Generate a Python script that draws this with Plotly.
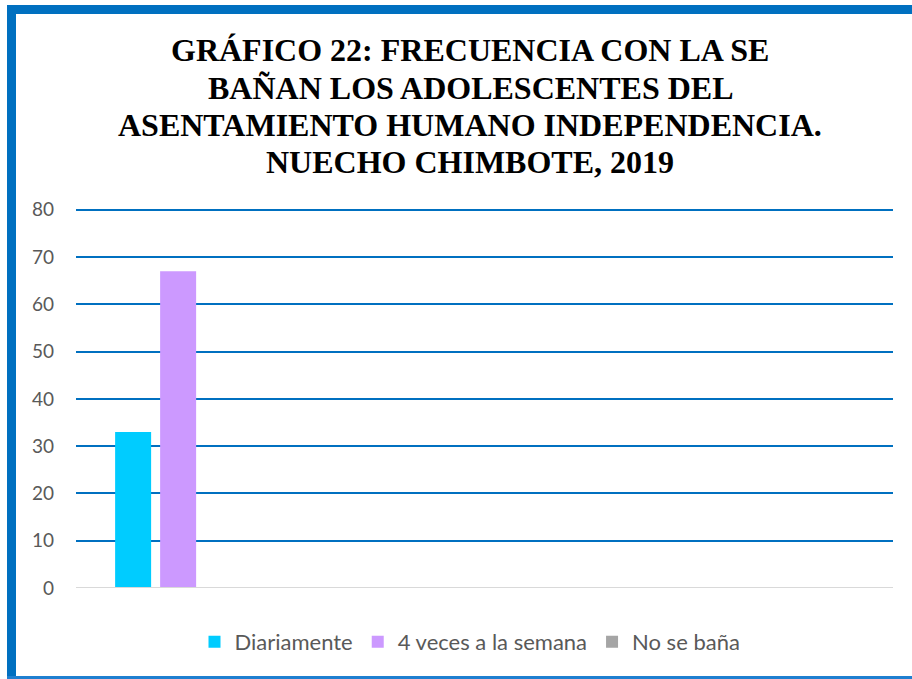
import plotly.graph_objects as go

categories = ["1", "2", "3", "4"]
series_names = ["Diariamente", "4 veces a la semana", "No se baña"]
diariamente = [33, None, None, None]
cuatro_veces = [67, None, None, None]
no_se_bana = [0, None, None, None]
colors = ["#00CCFF", "#CC99FF", "#A5A5A5"]
y_ticks = [0, 10, 20, 30, 40, 50, 60, 70, 80]
title_lines = [
    "GRÁFICO 22: FRECUENCIA CON LA SE",
    "BAÑAN LOS ADOLESCENTES DEL",
    "ASENTAMIENTO HUMANO INDEPENDENCIA.",
    "NUECHO CHIMBOTE, 2019",
]

W, H = 912, 679
L, R, T, B = 76, 893, 206, 588
Y_MAX = 80.8

fig = go.Figure()
for name, vals, col in zip(series_names, [diariamente, cuatro_veces, no_se_bana], colors):
    fig.add_trace(go.Bar(x=categories, y=vals, name=name, marker_color=col,
                         marker_line_width=0))

def px_x(x):
    return (x - L) / (R - L)

def px_y(y):
    return (B - y) / (B - T)

shapes = [
    dict(type="rect", xref="paper", yref="paper", x0=px_x(7), x1=px_x(16), y0=px_y(679), y1=px_y(6),
         fillcolor="#0070C0", line_width=0, layer="above"),
    dict(type="rect", xref="paper", yref="paper", x0=px_x(7), x1=px_x(912), y0=px_y(14), y1=px_y(5),
         fillcolor="#0070C0", line_width=0, layer="above"),
    dict(type="rect", xref="paper", yref="paper", x0=px_x(7), x1=px_x(912), y0=px_y(679), y1=px_y(676),
         fillcolor="#1F7FD0", line_width=0, layer="above"),
    dict(type="line", xref="paper", yref="y", x0=0, x1=1, y0=0, y1=0,
         line=dict(color="#D9D9D9", width=2), layer="above"),
]

line_centers = [50, 87.5, 124.5, 162]
annotations = [
    dict(text=t, xref="paper", yref="paper", x=px_x(470), y=px_y(yc), xanchor="center",
         yanchor="middle", showarrow=False,
         font=dict(family="Liberation Serif", size=32, color="black", weight="bold"))
    for t, yc in zip(title_lines, line_centers)
]

fig.update_layout(
    width=W, height=H,
    margin=dict(l=L, r=W - R, t=T, b=H - B, pad=0),
    paper_bgcolor="white", plot_bgcolor="white",
    barmode="group", bargap=0.339, bargroupgap=0.2,
    xaxis=dict(type="category", showticklabels=False, showgrid=False, zeroline=False,
               showline=False, ticks=""),
    yaxis=dict(range=[0, Y_MAX], tickvals=y_ticks, showgrid=True, gridcolor="#0070C0", gridwidth=2,
               zeroline=False, showline=False, ticks="",
               tickfont=dict(family="Lato", size=19, color="#595959"), ticklabelstandoff=21),
    legend=dict(orientation="h", x=470 / W, xref="container", xanchor="center",
                y=1 - 642 / H, yref="container", yanchor="middle",
                font=dict(family="Lato", size=22, color="#595959"), itemwidth=30,
                traceorder="normal"),
    shapes=shapes,
    annotations=annotations,
)

fig.write_html("out.html", config={"displayModeBar": False},
               post_script="document.body.style.margin='0';")
